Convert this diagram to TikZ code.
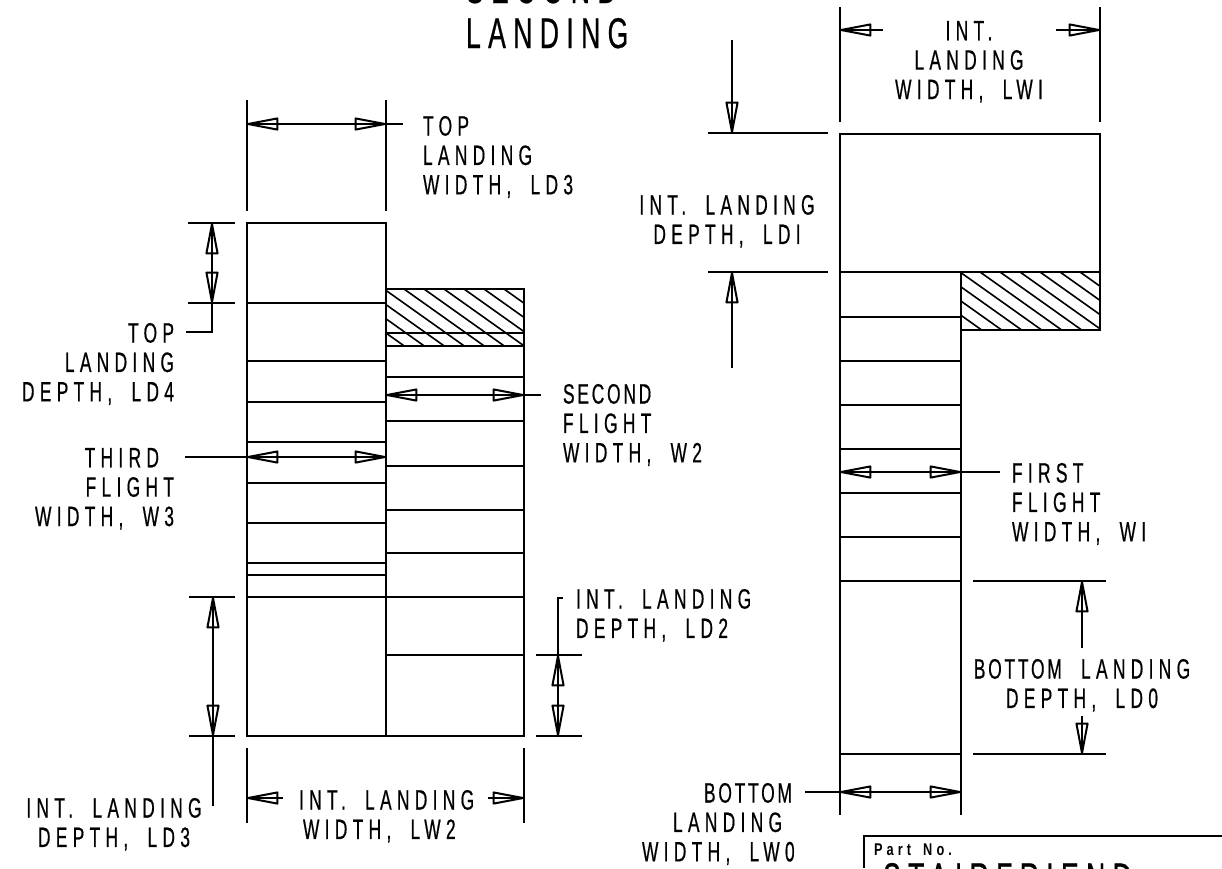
\documentclass[tikz,border=0pt]{standalone}
\usepackage{fontspec}
\newfontfamily\cadfont[FakeStretch=0.62,LetterSpace=19,WordSpace=1.9,FakeBold=0.5]{Liberation Sans}
\newfontfamily\cadbig[FakeStretch=0.62,LetterSpace=17,FakeBold=0.5]{Liberation Sans}
\newfontfamily\partfont[FakeStretch=0.75,LetterSpace=24,WordSpace=1.6]{Liberation Sans}
\newcommand{\tightword}[1]{{\addfontfeature{LetterSpace=10}#1}}
\usetikzlibrary{arrows.meta}
\tikzset{
  dimtip/.tip={Triangle[open,round,length=36pt,width=13pt]},
  dimline/.style={dimtip-dimtip,postaction={draw,-}},
  dimend/.style={-dimtip,postaction={draw,-}},
  lbl/.style={font=\cadfont\fontsize{28}{29.4}\selectfont,inner sep=0pt},
  bigtxt/.style={font=\cadbig\fontsize{43}{45}\selectfont,inner sep=0pt}
}

\begin{document}
\begin{tikzpicture}[x=1pt,y=-1pt,line width=2pt]
  \useasboundingbox (0,0) rectangle (1222,868);
  \clip (0,0) rectangle (1222,868);

  \draw (386,289) -- (524,289) -- (524,736) -- (247,736) -- (247,223) -- (386,223) -- (386,736);
  \draw (247,303) -- (386,303);
  \draw (247,361) -- (386,361);
  \draw (247,402) -- (386,402);
  \draw (247,442) -- (386,442);
  \draw (247,483) -- (386,483);
  \draw (247,523) -- (386,523);
  \draw (247,563) -- (386,563);
  \draw (247,575) -- (386,575);
  \draw (247,597) -- (524,597);
  \draw (386,333) -- (524,333);
  \draw (386,346) -- (524,346);
  \draw (386,377) -- (524,377);
  \draw (386,421) -- (524,421);
  \draw (386,466) -- (524,466);
  \draw (386,510) -- (524,510);
  \draw (386,553) -- (524,553);
  \draw (386,655) -- (524,655);
  \begin{scope}
    \clip (386,289) rectangle (524,346);
    \foreach \hx in {324,344,...,504}
      \draw[line width=1.6pt] (\hx,289) -- ++(200,142);
  \end{scope}

  \draw (247,100) -- (247,211);
  \draw (386,100) -- (386,211);
  \draw[dimline] (247,124) -- (386,124);
  \draw (386,124) -- (403,124);
  \node[lbl,anchor=north west,align=left] (topwidth) at (422,115) {TOP\\LANDING\\WIDTH, LD3};

  \draw (188,223) -- (235,223);
  \draw (188,303) -- (235,303);
  \draw[dimline] (212,223) -- (212,303);
  \draw (212,303) -- (212,332) -- (186,332);
  \node[lbl,anchor=north east,align=right] (topdepth) at (175,322) {TOP\\LANDING\\DEPTH, LD4};

  \draw[dimline] (386,395) -- (524,395);
  \draw (524,395) -- (541,395);
  \node[lbl,anchor=north west,align=left] (secondflight) at (562,383) {\tightword{SECOND}\\FLIGHT\\WIDTH, W2};

  \draw[dimline] (247,457) -- (386,457);
  \draw (185,457) -- (247,457);
  \node[lbl,anchor=north east,align=right] (thirdflight) at (175,447) {THIRD\hspace*{15pt}\\FLIGHT\\WIDTH, W3};

  \draw (189,597) -- (235,597);
  \draw (189,736) -- (235,736);
  \draw[dimline] (213,597) -- (213,736);
  \draw (213,736) -- (213,806);
  \node[lbl,anchor=north,align=center] (depththree) at (114,797) {INT. LANDING\\DEPTH, LD3};

  \draw (536,655) -- (582,655);
  \draw (536,736) -- (582,736);
  \draw[dimline] (558,655) -- (558,736);
  \draw (558,655) -- (558,598) -- (563,598);
  \node[lbl,anchor=north west,align=left] (depthtwo) at (575,588) {INT. LANDING\\DEPTH, LD2};

  \draw (247,748) -- (247,823);
  \draw (524,748) -- (524,823);
  \draw[dimend] (283,798) -- (247,798);
  \draw[dimend] (488,798) -- (524,798);
  \node[lbl,anchor=north west,align=left] (widthtwo) at (298,789) {INT. LANDING\\\hspace*{4pt}WIDTH, LW2};

  \node[bigtxt,anchor=north west,align=left] (secondland) at (465,-28) {SECOND\\LANDING};

  \draw (840,134) rectangle (1100,272);
  \draw (840,272) -- (840,815);
  \draw (961,272) -- (961,815);
  \draw (961,330) -- (1100,330) -- (1100,272);
  \draw (840,317) -- (961,317);
  \draw (840,361) -- (961,361);
  \draw (840,405) -- (961,405);
  \draw (840,449) -- (961,449);
  \draw (840,493) -- (961,493);
  \draw (840,537) -- (961,537);
  \draw (840,581) -- (961,581);
  \draw (840,754) -- (961,754);
  \begin{scope}
    \clip (961,272) rectangle (1100,330);
    \foreach \hx in {900,920,...,1080}
      \draw[line width=1.6pt] (\hx,272) -- ++(200,142);
  \end{scope}

  \draw (840,7) -- (840,122);
  \draw (1100,7) -- (1100,122);
  \draw[dimend] (883,30) -- (840,30);
  \draw[dimend] (1056,30) -- (1100,30);
  \node[lbl,anchor=north,align=center] (widthone) at (969,20) {INT.\\LANDING\\WIDTH, LWI};

  \draw (708,133) -- (828,133);
  \draw (708,272) -- (828,272);
  \draw[dimend] (732,40) -- (732,133);
  \draw[dimend] (732,368) -- (732,272);
  \node[lbl,anchor=north,align=center] (depthone) at (727,194) {INT. LANDING\\DEPTH, LDI};

  \draw[dimline] (840,472) -- (961,472);
  \draw (961,472) -- (1000,472);
  \node[lbl,anchor=north west,align=left] (firstflight) at (1011,462) {FIRST\\FLIGHT\\WIDTH, WI};

  \draw (973,581) -- (1106,581);
  \draw (973,754) -- (1106,754);
  \draw[dimend] (1082,648) -- (1082,581);
  \draw[dimend] (1082,716) -- (1082,754);
  \node[lbl,anchor=north,align=center] (bottomdepth) at (1082,658) {\tightword{BOTTOM} LANDING\\DEPTH, LD0};

  \draw[dimline] (840,792) -- (961,792);
  \draw (805,792) -- (840,792);
  \node[lbl,anchor=north west,align=left] (bottomwidth) at (641,782) {\hspace*{62pt}\tightword{BOTTOM}\\\hspace*{31pt}LANDING\\WIDTH, LW0};

  \draw (1222,836) -- (864,836) -- (864,868);
  \node[font=\partfont\bfseries\fontsize{17}{18}\selectfont,inner sep=0pt,anchor=north west] (partno) at (873,843) {Part No.};
  \node[bigtxt,anchor=north west] (partname) at (882,862) {STAIRFRIEND};
\end{tikzpicture}
\end{document}
